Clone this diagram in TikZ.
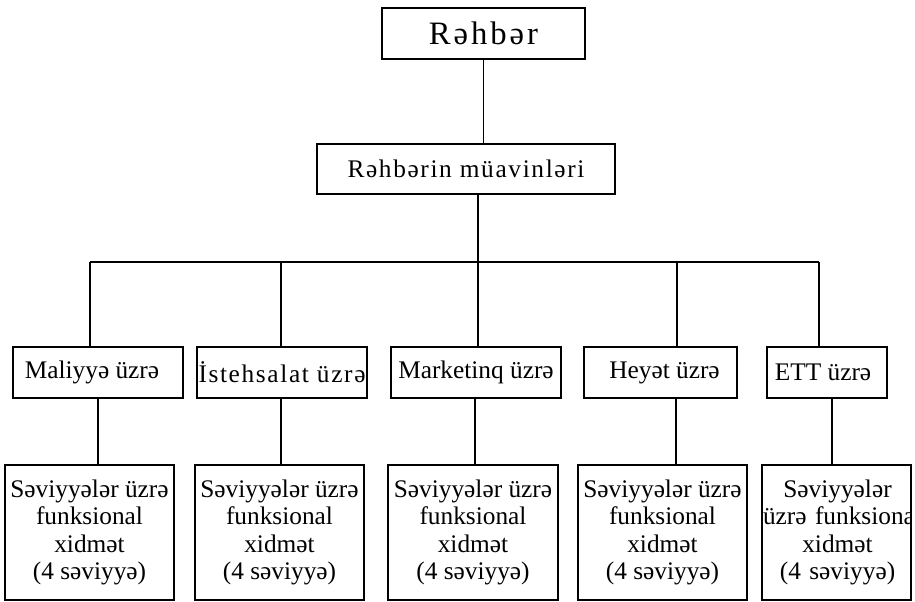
\documentclass[tikz,border=0pt]{standalone}
\usepackage{fontspec}
\setmainfont{Liberation Serif}
\begin{document}
\begin{tikzpicture}[x=0.75pt, y=-0.75pt,
  box/.style={draw, rectangle, line width=1.4pt, inner sep=0pt, align=center,
    font=\fontsize{19}{20.6}\selectfont},
  spaced/.style={font=\fontsize{19}{20.6}\selectfont\addfontfeatures{LetterSpace=6.5}},
  link/.style={line width=1.4pt},
  lvltwo/.style={box, minimum height=38.25pt},
  lvlthree/.style={box, minimum height=101.25pt}]
\useasboundingbox (0,0) rectangle (915,602);

% head and deputies
\node[box, minimum width=152.25pt, minimum height=38.25pt,
  font=\fontsize{24.5}{28}\selectfont\addfontfeatures{LetterSpace=9}] (head) at (483.5,33.5) {Rəhbər};
\node[box, spaced, minimum width=223.5pt, minimum height=37.5pt] (deputy) at (466,169) {Rəhbərin müavinləri};

% branch directions
\node[lvltwo, minimum width=127.5pt] (fin) at (98,372.5) {\hspace*{-9pt}Maliyyə üzrə};
\node[lvltwo, spaced, minimum width=127.5pt] (prod) at (282,372.5) {İstehsalat üzrə};
\node[lvltwo, minimum width=127.5pt] (mkt) at (476,372.5) {Marketinq üzrə};
\node[lvltwo, minimum width=114.75pt] (hr) at (660.5,372.5) {\hspace*{6pt}Heyət üzrə};
\node[lvltwo, minimum width=90pt] (rnd) at (827,372.5) {ETT üzrə\hspace*{6pt}};

% functional services
\node[lvlthree, minimum width=126.75pt] (f1) at (89.5,532.5) {Səviyyələr üzrə\\funksional\\xidmət\\(4 səviyyə)};
\node[lvlthree, minimum width=126.75pt] (f2) at (279.5,532.5) {Səviyyələr üzrə\\funksional\\xidmət\\(4 səviyyə)};
\node[lvlthree, minimum width=127.5pt] (f3) at (473,532.5) {Səviyyələr üzrə\\funksional\\xidmət\\(4 səviyyə)};
\node[lvlthree, minimum width=126.75pt] (f4) at (662.5,532.5) {Səviyyələr üzrə\\funksional\\xidmət\\(4 səviyyə)};
\begin{scope}
  \clip (762,465) rectangle (911,600);
  \node[font=\fontsize{19}{20.6}\selectfont, align=center, text width=111.75pt, inner sep=0pt]
    (f5text) at (837.5,532.5)
    {Səviyyələr\\\makebox[\linewidth][l]{üzrə funksional}\\xidmət\\(4 səviyyə)};
\end{scope}
\node[lvlthree, minimum width=111.75pt] (f5) at (836.5,532.5) {};

% bus junctions
\coordinate (j1) at (90,262);
\coordinate (j2) at (281,262);
\coordinate (j3) at (478,262);
\coordinate (j4) at (677,262);
\coordinate (j5) at (819,262);

% connectors
\draw[link] (head.south) -- (head.south |- deputy.north);
\draw[link] (deputy.south -| j3) -- (j3);
\draw[link] (j1) -- (j5);
\foreach \j/\n in {j1/fin, j2/prod, j3/mkt, j4/hr, j5/rnd}
  \draw[link] (\j) -- (\j |- \n.north);
\draw[link] (fin.south) -- (fin.south |- f1.north);
\draw[link] ([xshift=-0.75pt]prod.south) -- ([xshift=-0.75pt]prod.south |- f2.north);
\draw[link] ([xshift=-0.75pt]mkt.south) -- ([xshift=-0.75pt]mkt.south |- f3.north);
\draw[link] ([xshift=11.6pt]hr.south) -- ([xshift=11.6pt]hr.south |- f4.north);
\draw[link] ([xshift=3.75pt]rnd.south) -- ([xshift=3.75pt]rnd.south |- f5.north);
\end{tikzpicture}
\end{document}
